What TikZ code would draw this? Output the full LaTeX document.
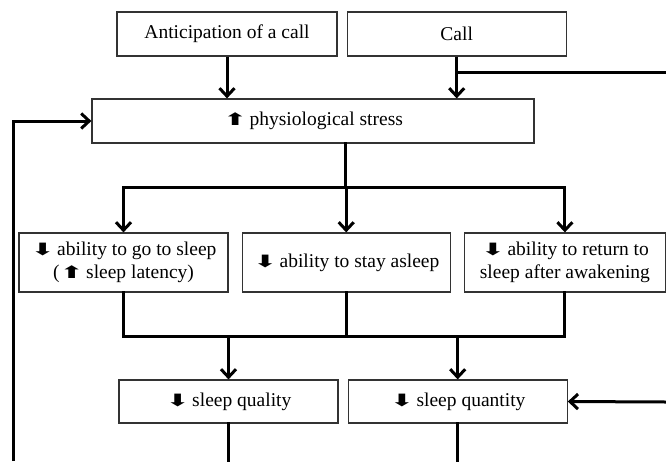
\documentclass[tikz,border=0pt]{standalone}
\usepackage{fontspec}
\usepackage{graphicx}
\setmainfont{Liberation Serif}
\newfontfamily\arrowfont{DejaVu Sans}
\usetikzlibrary{positioning,arrows.meta}
\newcommand{\arrdown}{{\arrowfont\fontsize{17}{17}\selectfont\scalebox{1.7}[1]{⬇}\kern-2.5pt}}
\newcommand{\arrup}{{\arrowfont\fontsize{17}{17}\selectfont\scalebox{1.7}[1]{⬆}\kern-2.5pt}}
\begin{document}
\begin{tikzpicture}[
    x=1pt, y=-1pt,
    node distance=9pt,
    block/.style={rectangle, draw=black!80, line width=1.2pt, fill=white, text centered, align=center, minimum height=44pt, inner sep=2pt, font=\fontsize{19.5}{22.5}\selectfont},
    arrow/.style={line width=3pt, ->, > = {Straight Barb[length=8pt, width=15pt]}},
    link/.style={line width=3pt, line cap=rect}
]
    \useasboundingbox (0,0) rectangle (666,461);

    \node [block, minimum width=220pt] (anticip) at (227,34) {Anticipation of a call};

    \node [block, minimum width=219pt, right=9pt of anticip] (call) {Call};

    \node [block, minimum width=442pt] (stress) at (313,121) {\arrup{} physiological stress};

    \node [block, minimum width=209pt, minimum height=59pt] (gosleep) at (123.5,262.5) {\arrdown{} ability to go to sleep\\(\arrup{} sleep latency)};

    \node [block, minimum width=208pt, minimum height=59pt, right=13pt of gosleep] (stay) {\arrdown{} ability to stay asleep};

    \node [block, minimum width=201pt, minimum height=59pt, right=13pt of stay] (return) {\arrdown{} ability to return to\\sleep after awakening};

    \node [block, minimum width=219pt, minimum height=43pt] (quality) at (228.5,401.5) {\arrdown{} sleep quality};

    \node [block, minimum width=219pt, minimum height=43pt, right=9pt of quality] (quantity) {\arrdown{} sleep quantity};

    \coordinate (callin) at (666,72);
    \coordinate (qtyin) at (666,402);
    \coordinate (loopend) at (13,461);
    \coordinate (split) at (345,187);
    \coordinate (join) at (345,336);

    \draw [arrow] (anticip.south) -- (anticip.south |- stress.north);
    \draw [arrow] (call.south) -- (call.south |- stress.north);
    \draw [link] (callin) -- (call.south |- callin);
    \draw [arrow] (loopend) |- (stress.west);

    \draw [link] (split |- stress.south) -- (split);
    \draw [link] (gosleep.north |- split) -- (return.north |- split);
    \draw [link] (gosleep.south |- join) -- (return.south |- join);
    \foreach \n in {gosleep, stay, return} {
        \draw [arrow] (\n.north |- split) -- (\n.north);
        \draw [link] (\n.south) -- (\n.south |- join);
    }
    \foreach \n in {quality, quantity} {
        \draw [arrow] (\n.north |- join) -- (\n.north);
        \draw [link] (\n.south) -- (\n.south |- loopend);
    }
    \draw [arrow] (qtyin) -- (quantity.east);
\end{tikzpicture}
\end{document}
